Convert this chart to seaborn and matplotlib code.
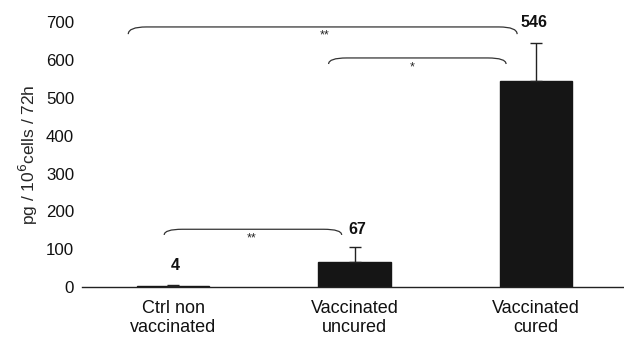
import matplotlib
matplotlib.use("Agg")
import matplotlib.pyplot as plt
import seaborn as sns
import pandas as pd
import numpy as np
from matplotlib.path import Path
from matplotlib.patches import PathPatch

categories = ["Ctrl non\nvaccinated", "Vaccinated\nuncured", "Vaccinated\ncured"]
values = [4, 67, 546]
errors = [2, 40, 100]
value_labels = ["4", "67", "546"]
yticks = [0, 100, 200, 300, 400, 500, 600, 700]

# brackets: (x_start, x_end, y_top, y_end, label, label_x, label_y)
brackets = [
    (-0.247, 1.896, 688, 669, "**", 0.835, 666),
    (0.857, 1.835, 606, 590, "*", 1.319, 580),
    (-0.049, 0.929, 153, 138, "**", 0.434, 130),
]
label_pos = [(0.01, 56), (1.016, 153), (1.99, 701)]

sns.set_theme(style="white")
plt.rcParams['font.family'] = ['Liberation Sans', 'DejaVu Sans']

fig = plt.figure(figsize=(6.24, 3.37), dpi=100)
ax = fig.add_axes([0.132, 0.148, 0.868, 0.7855])

df = pd.DataFrame({"cat": categories, "val": values})
sns.barplot(data=df, x="cat", y="val", color="#151515", width=0.4,
            errorbar=None, ax=ax, saturation=1)
for p in ax.patches:
    p.set_edgecolor("#151515")
ax.errorbar(np.arange(len(values)), values, yerr=[np.zeros(len(errors)), errors],
            fmt="none", ecolor="#222222", elinewidth=1, capsize=4, capthick=1)

ax.set_xlim(-0.5, 2.485)
ax.set_ylim(0, 700)
ax.set_yticks(yticks)
ax.set_xlabel("")
ax.set_ylabel(r"pg / 10$^{6}$cells / 72h", fontsize=12.5, labelpad=4)
for s in ["top", "right", "left"]:
    ax.spines[s].set_visible(False)
ax.spines["bottom"].set_color("#222222")
ax.spines["bottom"].set_linewidth(1)
ax.tick_params(axis="y", length=0, pad=6, labelsize=12.2, labelcolor="#111111")
ax.tick_params(axis="x", which="major", length=0, pad=9, labelsize=13, labelcolor="#111111")
ax.set_xticks([0.5, 1.5], minor=True)
ax.tick_params(axis="x", which="minor", length=4, width=1, color="#444444", direction="out")

for (x, y), t in zip(label_pos, value_labels):
    ax.text(x, y, t, ha="center", va="center", fontsize=11.5, fontweight="bold",
            color="#111111", clip_on=False)

for x0, x1, yt, ye, lab, lx, ly in brackets:
    dx = 0.1
    verts = [(x0, ye), (x0, yt), (x0 + dx, yt), (x1 - dx, yt), (x1, yt), (x1, ye)]
    codes = [Path.MOVETO, Path.CURVE3, Path.CURVE3, Path.LINETO, Path.CURVE3, Path.CURVE3]
    ax.add_patch(PathPatch(Path(verts, codes), fill=False, lw=0.9, color="#333333", clip_on=False))
    ax.text(lx, ly, lab, ha="center", va="center", fontsize=9, clip_on=False)

fig.savefig("out.png", dpi=100)
